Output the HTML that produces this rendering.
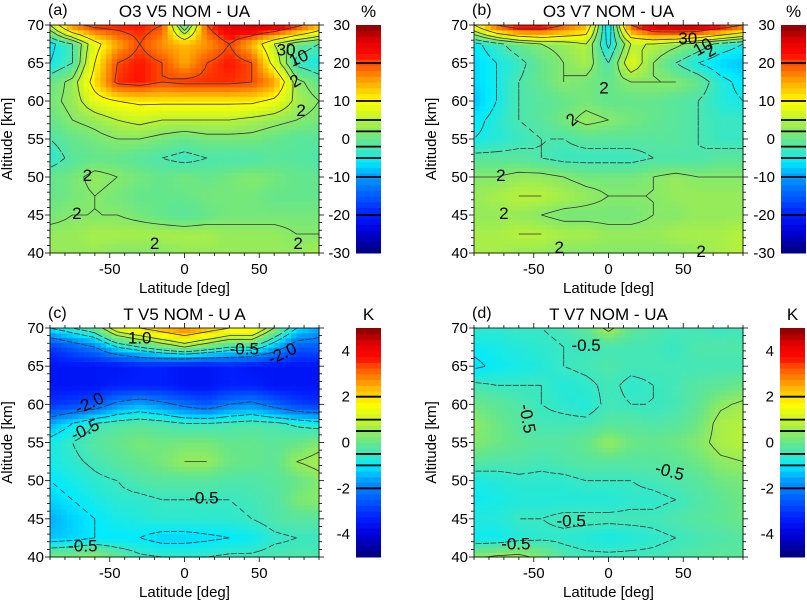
<!DOCTYPE html>
<html><head><meta charset="utf-8">
<style>
body{margin:0;background:#fff;}
svg{display:block;font-family:"Liberation Sans",Arial,sans-serif;}
</style></head>
<body>
<svg id="fig" width="807" height="601" viewBox="0 0 807 601" xmlns="http://www.w3.org/2000/svg"></svg>
<script>
const lats = [-90,-75,-60,-45,-30,-15,0,15,30,45,60,75,90];
const alts = [40,42.5,45,47.5,50,52.5,55,57.5,60,62.5,65,67.5,70];
// rows from 40 km upward
const o3v5 = [
[3,3,3,2,2,2,3,3,3,3,3,3,4],
[3,3,4,4,4,4,4,4,3,3,3,2,2],
[1,2,2,2,1,0,-1,0,1,1,1,1,1],
[0,1,2,1,0,0,0,1,1,1,0,0,0],
[0,1,3,2,1,0,1,0,1,2,1,0,0],
[-4,-1,0,0,-1,-2,-3,-2,-2,-2,-1,-1,-2],
[-2,0,1,2,2,1,0,1,1,1,0,-1,-1],
[0,2,3,5,6,5,5,5,5,4,3,2,1],
[1,3,8,10,11,11,11,11,11,11,9,4,2],
[0,3,12,21,22,20,21,21,21,20,16,3,0],
[-5,-2,10,20,22,20,15,20,22,20,8,-3,-5],
[-6,-2,8,15,20,16,14,16,20,14,5,0,-2],
[5,18,22,22,22,20,-3,20,26,28,28,22,15]];
const o3v7 = [
[4,4,3,3,2,2,2,2,2,2,3,4,5],
[4,4,5,5,4,4,3,3,3,4,4,4,5],
[3,3,3,2,1,1,1,1,2,2,3,3,3],
[3,4,5,5,4,3,2,2,2,3,3,3,3],
[2,2,3,3,2,1,1,1,2,3,2,2,2],
[-1,-1,-1,-2,-3,-3,-3,-3,-2,-2,-2,-1,-1],
[-5,-4,-3,-2,-2,-1,-1,-1,-1,-1,-2,-3,-3],
[-6,-4,-2,-1,1,3,2,1,0,-1,-2,-3,-3],
[-8,-5,-2,-1,0,1,0,0,0,-1,-2,-4,-5],
[-7,-5,-2,0,2,1,0,2,2,2,0,-4,-6],
[-7,-5,-3,0,2,4,-2,8,2,-2,-5,-7,-8],
[-6,-3,0,2,3,5,-6,5,5,3,0,-3,-5],
[10,20,25,25,20,15,-8,20,28,30,30,25,20]];
const tv5 = [
[0.2,0.3,0.5,0,-0.4,-0.5,-0.5,-0.5,-0.4,-0.4,-0.3,-0.3,-0.3],
[-1.3,-1.2,-1,-1,-1,-1.2,-1.2,-1.1,-1,-0.9,-0.6,-0.5,-0.5],
[-1.5,-1.2,-1,-0.8,-0.7,-0.6,-0.6,-0.6,-0.6,-0.5,-0.3,-0.2,-0.2],
[-1.2,-1,-0.8,-0.6,-0.6,-0.5,-0.5,-0.5,-0.5,-0.4,-0.3,0.2,0.4],
[-1,-0.8,-0.6,-0.5,-0.3,-0.2,-0.2,-0.2,-0.3,-0.3,-0.2,0,0.3],
[-0.8,-0.6,-0.4,-0.2,0,0.2,0.5,0.5,0.1,0,-0.1,0.5,0.7],
[-0.8,-0.5,-0.2,0,0.2,0.1,0.2,0.2,0,0,-0.1,0,0.3],
[-1.5,-1,-0.5,-0.3,-0.2,-0.3,-0.5,-0.5,-0.4,-0.3,-0.4,-0.6,-0.8],
[-3,-2.8,-2.5,-1.8,-1.5,-1.8,-2.2,-2.5,-2,-1.8,-2.3,-2.8,-3],
[-3.5,-3.5,-3.5,-3.3,-3.3,-3.3,-3.5,-3.5,-3.3,-3.3,-3.5,-3.5,-3.5],
[-3.5,-3.5,-3.5,-3.5,-3.3,-3.3,-3.5,-3.5,-3.3,-3.5,-3.5,-3.5,-3.5],
[-3,-2.5,-2,-1,-0.5,0,0.5,0,-0.5,-0.5,-1.5,-2.5,-2.5],
[-1,-0.5,0,1.5,2,2.5,3,2.5,2,2,0.5,-1,-1.5]];
const tv7 = [
[0.4,0.6,0.7,0.3,-0.3,-0.4,-0.4,-0.4,-0.4,-0.3,-0.2,-0.1,-0.1],
[-0.9,-0.9,-0.7,-0.6,-0.6,-0.7,-0.8,-0.7,-0.6,-0.5,-0.4,-0.3,-0.2],
[-0.7,-0.7,-0.5,-0.5,-0.4,-0.4,-0.4,-0.4,-0.4,-0.3,-0.2,-0.1,0.1],
[-0.9,-0.8,-0.7,-0.7,-0.7,-0.7,-0.7,-0.6,-0.6,-0.5,-0.3,-0.1,0.1],
[-0.8,-0.7,-0.6,-0.6,-0.6,-0.5,-0.5,-0.5,-0.4,-0.3,-0.2,0.1,0.2],
[-0.2,-0.3,-0.3,-0.4,-0.3,-0.2,-0.2,-0.2,-0.2,-0.1,0.1,0.4,0.5],
[0.3,0.1,-0.1,-0.2,-0.2,0,0.5,0.1,0,0.1,0.3,0.7,0.8],
[0.4,0.1,-0.2,-0.4,-0.4,-0.4,-0.2,-0.2,-0.3,-0.2,0.1,0.7,0.8],
[0.1,-0.1,-0.3,-0.5,-0.6,-0.7,-0.4,-0.5,-0.5,-0.4,-0.1,0.4,0.6],
[-0.4,-0.5,-0.5,-0.5,-0.7,-0.6,-0.4,-0.6,-0.5,-0.4,-0.2,-0.1,0.1],
[-1.1,-0.9,-0.8,-0.7,-0.5,-0.4,-0.3,-0.4,-0.4,-0.4,-0.4,-0.4,-0.4],
[-0.9,-0.8,-0.7,-0.6,-0.5,-0.5,-0.4,-0.4,-0.4,-0.5,-0.3,-0.3,-0.3],
[-0.6,-0.6,-0.5,-0.5,-0.4,-0.1,0.7,-0.1,-0.3,-0.4,-0.4,-0.5,-0.4]];
const xTicks = [-50,0,50];
const yTicks = [40,45,50,55,60,65,70];
const o3Levels = [-20,-10,-5,-2,2,5,10,20,30];
const tLevels = [-2,-1,-0.5,0.5,1,2];
const o3CbTicks = [-30,-20,-10,0,10,20,30];
const tCbTicks = [-4,-2,0,2,4];

const NS="http://www.w3.org/2000/svg";
const svg=document.getElementById('fig');
function el(tag,attrs,parent){const e=document.createElementNS(NS,tag);for(const k in attrs)e.setAttribute(k,attrs[k]);(parent||svg).appendChild(e);return e;}

const stops=[[0,[0,0,120]],[0.1,[0,0,220]],[0.17,[0,30,255]],[0.33,[0,150,255]],[0.4,[0,235,255]],[0.47,[80,230,170]],[0.5,[100,230,140]],[0.55,[150,235,90]],[0.6,[200,245,40]],[0.667,[255,255,0]],[0.75,[255,170,0]],[0.83,[255,80,0]],[0.87,[255,10,0]],[0.93,[230,0,0]],[1,[130,0,0]]];
function cmap(t){t=Math.max(0,Math.min(1,t));for(let i=1;i<stops.length;i++){if(t<=stops[i][0]){const a=stops[i-1],b=stops[i];const f=(t-a[0])/(b[0]-a[0]);const c=a[1].map((v,k)=>Math.round(v+(b[1][k]-v)*f));return `rgb(${c[0]},${c[1]},${c[2]})`;}}return 'rgb(130,0,0)';}

function panel(opt){
  const {x0,y0,w,h,data,vmin,vmax,levels,cbTicks,cbLevels,title,tag,unit,cbx,labels}=opt;
  const g=el('g',{});
  
  
  const xs=v=>x0+(v+90)/180*w;
  const ys=v=>y0+h-(v-40)/30*h;
  const sample=(la,al)=>{
    let i=(la+90)/15, j=(al-40)/2.5;
    i=Math.max(0,Math.min(11.9999,i)); j=Math.max(0,Math.min(11.9999,j));
    const i0=Math.floor(i),j0=Math.floor(j),fi=i-i0,fj=j-j0;
    return data[j0][i0]*(1-fi)*(1-fj)+data[j0][i0+1]*fi*(1-fj)+data[j0+1][i0]*(1-fi)*fj+data[j0+1][i0+1]*fi*fj;
  };
  const field=el('g',{},g);
  
  
  const N=4;
  for(let j=0;j<12*N;j++){for(let i=0;i<12*N;i++){
    const la=-90+(i+0.5)*15/N, al=40+(j+0.5)*2.5/N;
    const v=sample(la,al);
    const xa=xs(-90+i*15/N),xb=xs(-90+(i+1)*15/N),ya=ys(40+(j+1)*2.5/N),yb=ys(40+j*2.5/N);
    const r=el('rect',{x:xa.toFixed(2),y:ya.toFixed(2),width:(xb-xa+0.6).toFixed(2),height:(yb-ya+0.6).toFixed(2),fill:cmap((v-vmin)/(vmax-vmin))},field);
    
    
  }}
  const cg=el('g',{fill:'none',stroke:'#333','stroke-width':0.8},g);
  
  
  const M=3,nx=12*M,ny=12*M;
  const grid=[];for(let j=0;j<=ny;j++){grid.push([]);for(let i=0;i<=nx;i++)grid[j].push(sample(-90+i*15/M,40+j*2.5/M));}
  const px=i=>xs(-90+i*15/M),py=j=>ys(40+j*2.5/M);
  levels.forEach(L=>{
    let d='';
    for(let j=0;j<ny;j++)for(let i=0;i<nx;i++){
      const a=grid[j][i],b=grid[j][i+1],c=grid[j+1][i+1],e=grid[j+1][i];
      const pts=[];
      const edge=(v1,v2,x1,y1,x2,y2)=>{if((v1<L)!==(v2<L)){const f=(L-v1)/(v2-v1);pts.push([x1+(x2-x1)*f,y1+(y2-y1)*f]);}};
      edge(a,b,px(i),py(j),px(i+1),py(j));
      edge(b,c,px(i+1),py(j),px(i+1),py(j+1));
      edge(c,e,px(i+1),py(j+1),px(i),py(j+1));
      edge(e,a,px(i),py(j+1),px(i),py(j));
      for(let k=0;k+1<pts.length;k+=2)d+=`M${pts[k][0].toFixed(1)},${pts[k][1].toFixed(1)}L${pts[k+1][0].toFixed(1)},${pts[k+1][1].toFixed(1)}`;
    }
    if(d){const p=el('path',{d:d},cg);if(L<0)p.setAttribute('stroke-dasharray','6,4');
      
      }
  });
  labels.forEach(l=>{const t=el('text',{x:xs(l[1]),y:ys(l[2]),'font-size':17,'text-anchor':'middle',transform:`rotate(${l[3]||0} ${xs(l[1])} ${ys(l[2])})`},g);t.textContent=l[0];
    
    });
  const fr=el('rect',{x:x0,y:y0,width:w,height:h,fill:'none',stroke:'#000','stroke-width':0.8},g);
  
  
  const ax=el('g',{stroke:'#000','stroke-width':0.8},g);
  
  
  for(let v=-90;v<=90;v+=10){const big=v%50===0;const L=big?5:3;const X=xs(v);
    el('line',{x1:X,y1:y0+h,x2:X,y2:y0+h+L},ax);el('line',{x1:X,y1:y0,x2:X,y2:y0-L},ax);}
  for(let v=40;v<=70;v+=1){const big=v%5===0;const L=big?5:3;const Y=ys(v);
    el('line',{x1:x0,y1:Y,x2:x0-L,y2:Y},ax);el('line',{x1:x0+w,y1:Y,x2:x0+w+L,y2:Y},ax);}
  xTicks.forEach(v=>{const t=el('text',{x:xs(v),y:y0+h+21,'font-size':15,'text-anchor':'middle'},g);t.textContent=v;
    });
  yTicks.forEach(v=>{const t=el('text',{x:x0-6,y:ys(v)+5,'font-size':15,'text-anchor':'end'},g);t.textContent=v;
    });
  const xt=el('text',{x:x0+w/2,y:y0+h+40,'font-size':15,'text-anchor':'middle'},g);xt.textContent='Latitude [deg]';
  
  const yt=el('text',{x:x0-38,y:y0+h/2,'font-size':15,'text-anchor':'middle',transform:`rotate(-90 ${x0-38} ${y0+h/2})`},g);yt.textContent='Altitude [km]';
  
  const tt=el('text',{x:x0+w/2,y:y0-8,'font-size':17,'text-anchor':'middle'},g);tt.textContent=title;
  
  const tg=el('text',{x:x0-2,y:y0-10,'font-size':16},g);tg.textContent=tag;
  
  const cb=el('g',{},g);
  
  
  const nb=40,cw=25;
  for(let k=0;k<nb;k++){const v=vmin+(k+0.5)*(vmax-vmin)/nb;
    const r=el('rect',{x:cbx,y:(y0+h-(k+1)*h/nb).toFixed(2),width:cw,height:(h/nb+0.5).toFixed(2),fill:cmap((v-vmin)/(vmax-vmin))},cb);
    }
  const cys=v=>y0+h-(v-vmin)/(vmax-vmin)*h;
  cbLevels.forEach(v=>{const l=el('line',{x1:cbx,x2:cbx+cw,y1:cys(v),y2:cys(v),stroke:'#000','stroke-width':1.8},cb);
    });
  cbTicks.forEach(v=>{const t=el('text',{x:cbx-6,y:cys(v)+5,'font-size':15,'text-anchor':'end'},cb);t.textContent=v;
    });
  const ut=el('text',{x:cbx+cw/2,y:y0-8,'font-size':17,'text-anchor':'middle'},cb);ut.textContent=unit;
  
}
panel({name:'panel-a',x0:50,y0:25,w:269,h:228,data:o3v5,vmin:-30,vmax:30,levels:o3Levels,cbTicks:o3CbTicks,cbLevels:[-20,-10,-5,-2,2,5,10,20],title:'O3 V5 NOM - UA',tag:'(a)',unit:'%',cbx:356,
  labels:[['30',68,66,0],['10',78,65,-25],['2',76,62,-30],['2',78,58,0],['2',-65,49.5,0],['2',-72,44.5,0],['2',-20,40.5,0],['2',76,40.5,0]]});
panel({name:'panel-b',x0:474,y0:25,w:269,h:228,data:o3v7,vmin:-30,vmax:30,levels:o3Levels,cbTicks:o3CbTicks,cbLevels:[-20,-10,-5,-2,2,5,10,20],title:'O3 V7 NOM - UA',tag:'(b)',unit:'%',cbx:781,
  labels:[['30',53,67.5,0],['10',65,66.5,-30],['2',70,66,-30],['2',-3,61,0],['2',-22,57,-40],['2',-72,49.5,0],['2',-70,44.5,0],['2',-33,40,0],['2',62,39.5,0]]});
panel({name:'panel-c',x0:50,y0:328,w:269,h:229,data:tv5,vmin:-5,vmax:5,levels:tLevels,cbTicks:tCbTicks,cbLevels:[-2,-1,-0.5,0.5,1,2],title:'T V5 NOM - U A',tag:'(c)',unit:'K',cbx:356,
  labels:[['1.0',-30,68,0],['-0.5',40,66.5,0],['-2.0',67,66,-25],['-2.0',-62,59.5,-25],['-0.5',-65,56,-25],['-0.5',13,47,0],['-0.5',-68,40.7,0]]});
panel({name:'panel-d',x0:474,y0:328,w:269,h:229,data:tv7,vmin:-5,vmax:5,levels:tLevels,cbTicks:tCbTicks,cbLevels:[-2,-1,-0.5,0.5,1,2],title:'T V7 NOM - UA',tag:'(d)',unit:'K',cbx:780,
  labels:[['-0.5',-15,67,0],['-0.5',-58,58,80],['-0.5',40,50.5,15],['-0.5',-25,44,0],['-0.5',-62,41,0]]});
</script>
</body></html>
